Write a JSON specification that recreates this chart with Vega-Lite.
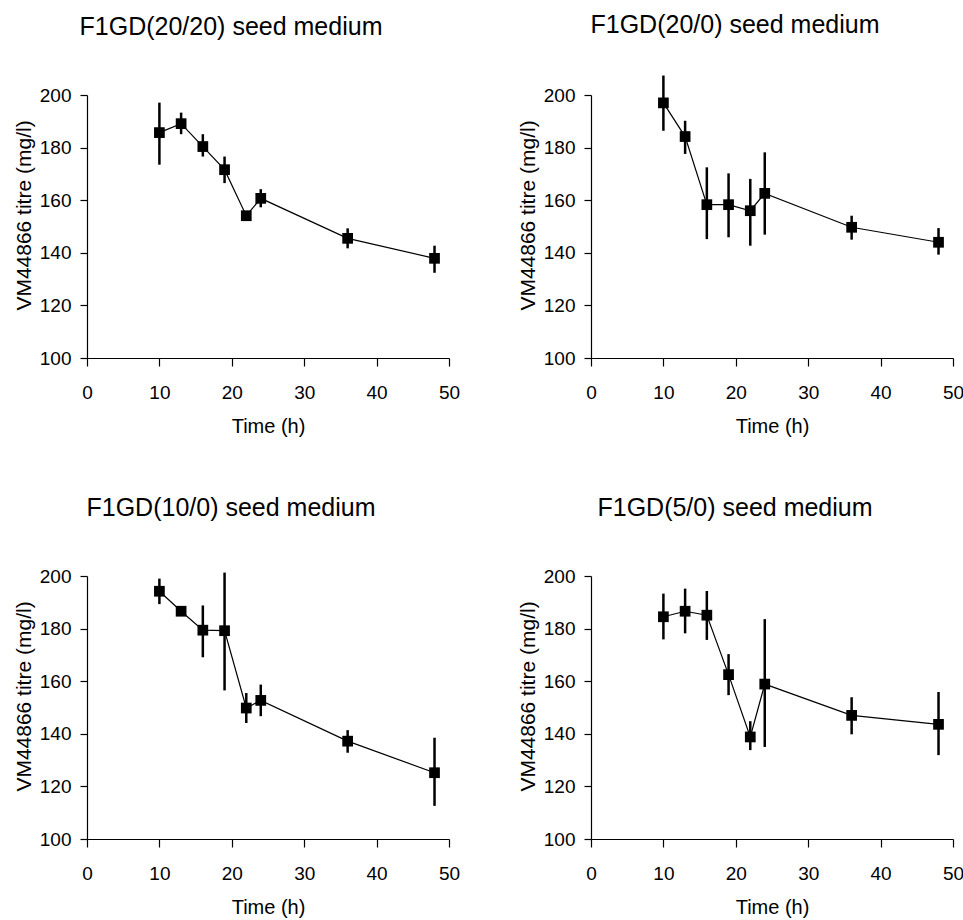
{
  "$schema": "https://vega.github.io/schema/vega-lite/v6.json",
  "padding": {"left": 13, "top": 13, "right": 0, "bottom": 5},
  "background": "white",
  "datasets": {
    "d": [
      {"panel": "A", "t": 10, "v": 185.7, "lo": 173.5, "hi": 197.1},
      {"panel": "A", "t": 13, "v": 189.1, "lo": 185.1, "hi": 193.3},
      {"panel": "A", "t": 16, "v": 180.4, "lo": 176.6, "hi": 185.1},
      {"panel": "A", "t": 19, "v": 171.6, "lo": 166.5, "hi": 176.6},
      {"panel": "A", "t": 22, "v": 154.1, "lo": 153.0, "hi": 155.0},
      {"panel": "A", "t": 24, "v": 160.7, "lo": 157.3, "hi": 164.2},
      {"panel": "A", "t": 36, "v": 145.5, "lo": 141.7, "hi": 149.3},
      {"panel": "A", "t": 48, "v": 137.9, "lo": 132.4, "hi": 142.7},
      {"panel": "B", "t": 10, "v": 197.0, "lo": 186.4, "hi": 207.4},
      {"panel": "B", "t": 13, "v": 184.2, "lo": 177.6, "hi": 190.2},
      {"panel": "B", "t": 16, "v": 158.3, "lo": 145.2, "hi": 172.5},
      {"panel": "B", "t": 19, "v": 158.3, "lo": 145.9, "hi": 170.2},
      {"panel": "B", "t": 22, "v": 156.0, "lo": 142.7, "hi": 168.1},
      {"panel": "B", "t": 24, "v": 162.6, "lo": 146.9, "hi": 178.2},
      {"panel": "B", "t": 36, "v": 149.7, "lo": 145.0, "hi": 154.1},
      {"panel": "B", "t": 48, "v": 144.0, "lo": 139.3, "hi": 149.4},
      {"panel": "C", "t": 10, "v": 194.2, "lo": 189.3, "hi": 199.0},
      {"panel": "C", "t": 13, "v": 186.6, "lo": 185.6, "hi": 187.6},
      {"panel": "C", "t": 16, "v": 179.4, "lo": 169.1, "hi": 188.8},
      {"panel": "C", "t": 19, "v": 179.2, "lo": 156.5, "hi": 201.3},
      {"panel": "C", "t": 22, "v": 149.8, "lo": 144.1, "hi": 155.5},
      {"panel": "C", "t": 24, "v": 152.7, "lo": 146.7, "hi": 158.7},
      {"panel": "C", "t": 36, "v": 137.2, "lo": 132.8, "hi": 141.4},
      {"panel": "C", "t": 48, "v": 125.2, "lo": 112.6, "hi": 138.5},
      {"panel": "D", "t": 10, "v": 184.5, "lo": 175.9, "hi": 193.3},
      {"panel": "D", "t": 13, "v": 186.6, "lo": 178.2, "hi": 195.2},
      {"panel": "D", "t": 16, "v": 185.1, "lo": 175.7, "hi": 194.3},
      {"panel": "D", "t": 19, "v": 162.5, "lo": 154.7, "hi": 170.3},
      {"panel": "D", "t": 22, "v": 138.8, "lo": 133.8, "hi": 144.8},
      {"panel": "D", "t": 24, "v": 158.9, "lo": 135.0, "hi": 183.6},
      {"panel": "D", "t": 36, "v": 147.0, "lo": 139.8, "hi": 153.9},
      {"panel": "D", "t": 48, "v": 143.6, "lo": 131.9, "hi": 155.9}
    ]
  },
  "data": {"name": "d"},
  "columns": 2,
  "spacing": {"row": 60, "column": 57},
  "concat": [
    {
      "title": {"text": "F1GD(20/20) seed medium"},
      "width": 362, "height": 263,
      "transform": [{"filter": "datum.panel === 'A'"}],
      "encoding": {
        "x": {"field": "t", "type": "quantitative", "scale": {"domain": [0, 50], "nice": false}, "axis": {"values": [0, 10, 20, 30, 40, 50], "title": "Time (h)"}}
      },
      "layer": [
        {"mark": {"type": "rule", "strokeWidth": 2.5, "color": "black", "clip": false},
         "encoding": {"y": {"field": "lo", "type": "quantitative", "scale": {"domain": [100, 200], "nice": false}, "axis": {"values": [100, 120, 140, 160, 180, 200], "title": "VM44866 titre (mg/l)"}}, "y2": {"field": "hi"}}},
        {"mark": {"type": "line", "color": "black", "strokeWidth": 1.2},
         "encoding": {"y": {"field": "v", "type": "quantitative", "title": "VM44866 titre (mg/l)"}}},
        {"mark": {"type": "point", "shape": "square", "filled": true, "size": 115, "color": "black", "opacity": 1},
         "encoding": {"y": {"field": "v", "type": "quantitative", "title": "VM44866 titre (mg/l)"}}}
      ]
    },
    {
      "title": {"text": "F1GD(20/0) seed medium", "offset": 36},
      "width": 362, "height": 263,
      "transform": [{"filter": "datum.panel === 'B'"}],
      "encoding": {
        "x": {"field": "t", "type": "quantitative", "scale": {"domain": [0, 50], "nice": false}, "axis": {"values": [0, 10, 20, 30, 40, 50], "title": "Time (h)"}}
      },
      "layer": [
        {"mark": {"type": "rule", "strokeWidth": 2.5, "color": "black", "clip": false},
         "encoding": {"y": {"field": "lo", "type": "quantitative", "scale": {"domain": [100, 200], "nice": false}, "axis": {"values": [100, 120, 140, 160, 180, 200], "title": "VM44866 titre (mg/l)"}}, "y2": {"field": "hi"}}},
        {"mark": {"type": "line", "color": "black", "strokeWidth": 1.2},
         "encoding": {"y": {"field": "v", "type": "quantitative", "title": "VM44866 titre (mg/l)"}}},
        {"mark": {"type": "point", "shape": "square", "filled": true, "size": 115, "color": "black", "opacity": 1},
         "encoding": {"y": {"field": "v", "type": "quantitative", "title": "VM44866 titre (mg/l)"}}}
      ]
    },
    {
      "title": {"text": "F1GD(10/0) seed medium"},
      "width": 362, "height": 263,
      "transform": [{"filter": "datum.panel === 'C'"}],
      "encoding": {
        "x": {"field": "t", "type": "quantitative", "scale": {"domain": [0, 50], "nice": false}, "axis": {"values": [0, 10, 20, 30, 40, 50], "title": "Time (h)"}}
      },
      "layer": [
        {"mark": {"type": "rule", "strokeWidth": 2.5, "color": "black", "clip": false},
         "encoding": {"y": {"field": "lo", "type": "quantitative", "scale": {"domain": [100, 200], "nice": false}, "axis": {"values": [100, 120, 140, 160, 180, 200], "title": "VM44866 titre (mg/l)"}}, "y2": {"field": "hi"}}},
        {"mark": {"type": "line", "color": "black", "strokeWidth": 1.2},
         "encoding": {"y": {"field": "v", "type": "quantitative", "title": "VM44866 titre (mg/l)"}}},
        {"mark": {"type": "point", "shape": "square", "filled": true, "size": 115, "color": "black", "opacity": 1},
         "encoding": {"y": {"field": "v", "type": "quantitative", "title": "VM44866 titre (mg/l)"}}}
      ]
    },
    {
      "title": {"text": "F1GD(5/0) seed medium"},
      "width": 362, "height": 263,
      "transform": [{"filter": "datum.panel === 'D'"}],
      "encoding": {
        "x": {"field": "t", "type": "quantitative", "scale": {"domain": [0, 50], "nice": false}, "axis": {"values": [0, 10, 20, 30, 40, 50], "title": "Time (h)"}}
      },
      "layer": [
        {"mark": {"type": "rule", "strokeWidth": 2.5, "color": "black", "clip": false},
         "encoding": {"y": {"field": "lo", "type": "quantitative", "scale": {"domain": [100, 200], "nice": false}, "axis": {"values": [100, 120, 140, 160, 180, 200], "title": "VM44866 titre (mg/l)"}}, "y2": {"field": "hi"}}},
        {"mark": {"type": "line", "color": "black", "strokeWidth": 1.2},
         "encoding": {"y": {"field": "v", "type": "quantitative", "title": "VM44866 titre (mg/l)"}}},
        {"mark": {"type": "point", "shape": "square", "filled": true, "size": 115, "color": "black", "opacity": 1},
         "encoding": {"y": {"field": "v", "type": "quantitative", "title": "VM44866 titre (mg/l)"}}}
      ]
    }
  ],
  "config": {
    "font": "Liberation Sans",
    "view": {"stroke": null},
    "axis": {
      "grid": false,
      "domainColor": "black",
      "domainWidth": 1.2,
      "tickColor": "black",
      "tickWidth": 1.2,
      "labelColor": "black",
      "titleColor": "black",
      "labelFontSize": 19,
      "titleFontSize": 20,
      "titleFontWeight": "normal",
      "labelFlush": false,
      "labelOverlap": false
    },
    "axisX": {"tickSize": 8, "labelPadding": 17, "titlePadding": 14},
    "axisY": {"tickSize": 7, "labelPadding": 9, "titlePadding": 5, "titleY": 120, "titleFontSize": 21},
    "title": {"fontSize": 25, "fontWeight": "normal", "anchor": "middle", "frame": "group", "dx": -37, "offset": 46, "color": "black"}
  }
}
